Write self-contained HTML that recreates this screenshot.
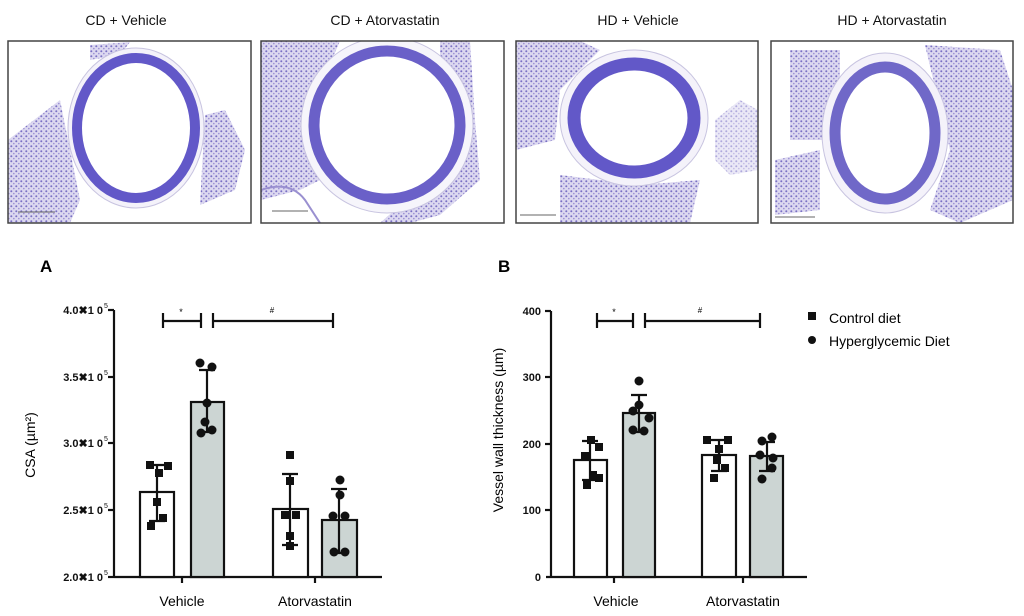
<!DOCTYPE html>
<html><head><meta charset="utf-8"><style>
html,body{margin:0;padding:0;background:#fff}
svg{display:block}
text{font-family:"Liberation Sans",sans-serif}
</style></head><body>
<svg width="1024" height="616" viewBox="0 0 1024 616" xmlns="http://www.w3.org/2000/svg">
<defs>
<pattern id="tis" width="5" height="5" patternUnits="userSpaceOnUse">
<rect width="5" height="5" fill="#dcd8f0"/>
<circle cx="1.3" cy="1.3" r="1" fill="#7a70c4"/>
<circle cx="3.8" cy="3.6" r="0.8" fill="#9a90d4"/>
</pattern>
<clipPath id="c1"><rect x="8" y="41" width="243" height="182"/></clipPath>
<clipPath id="c2"><rect x="261" y="41" width="243" height="182"/></clipPath>
<clipPath id="c3"><rect x="516" y="41" width="242" height="182"/></clipPath>
<clipPath id="c4"><rect x="771" y="41" width="242" height="182"/></clipPath>
</defs>
<g font-size="14" text-anchor="middle" fill="#111">
<text x="126" y="25">CD + Vehicle</text>
<text x="385" y="25">CD + Atorvastatin</text>
<text x="638" y="25">HD + Vehicle</text>
<text x="892" y="25">HD + Atorvastatin</text>
</g>
<!-- panel 1 -->
<g clip-path="url(#c1)">
<rect x="8" y="41" width="243" height="182" fill="#fff"/>
<path d="M8 140 L60 100 L80 200 L70 223 L8 223Z" fill="url(#tis)"/>
<path d="M205 115 L225 110 L245 150 L235 190 L200 205 Z" fill="url(#tis)"/>
<path d="M90 45 L130 42 L120 55 L90 60Z" fill="url(#tis)"/>
<ellipse cx="136" cy="128" rx="68" ry="80" fill="#f4f2fa" stroke="#c8c4e0" stroke-width="1"/>
<ellipse cx="136" cy="128" rx="59" ry="70" fill="#fff" stroke="#6258c8" stroke-width="10"/>
<line x1="18" y1="212" x2="55" y2="212" stroke="#666"/>
</g>
<rect x="8" y="41" width="243" height="182" fill="none" stroke="#444" stroke-width="1.5"/>
<!-- panel 2 -->
<g clip-path="url(#c2)">
<rect x="261" y="41" width="243" height="182" fill="#fff"/>
<path d="M261 41 L340 41 L310 110 L320 180 L300 190 L261 200Z" fill="url(#tis)"/>
<path d="M440 41 L470 41 L475 120 L480 180 L440 215 L410 223 L380 223 L440 170Z" fill="url(#tis)"/>
<path d="M261 190 Q290 180 305 200 L320 223" stroke="#9a90d0" stroke-width="2" fill="none"/>
<ellipse cx="387" cy="125" rx="86" ry="88" fill="#f6f5fb" stroke="#c8c4e0"/>
<ellipse cx="387" cy="125" rx="73" ry="74" fill="#fff" stroke="#6a60c8" stroke-width="11"/>
<line x1="272" y1="211" x2="308" y2="211" stroke="#666"/>
</g>
<rect x="261" y="41" width="243" height="182" fill="none" stroke="#444" stroke-width="1.5"/>
<!-- panel 3 -->
<g clip-path="url(#c3)">
<rect x="516" y="41" width="242" height="182" fill="#fff"/>
<path d="M516 41 L580 41 L600 50 L560 90 L555 140 L516 150Z" fill="url(#tis)"/>
<path d="M560 175 L640 185 L700 180 L690 223 L560 223Z" fill="url(#tis)"/>
<path d="M715 120 L740 100 L758 110 L758 170 L730 175 L715 160Z" fill="url(#tis)" opacity="0.6"/>
<ellipse cx="634" cy="118" rx="74" ry="68" fill="#f4f2fa" stroke="#c8c4e0"/>
<ellipse cx="634" cy="118" rx="60" ry="54" fill="#fff" stroke="#6258c8" stroke-width="13"/>
<line x1="520" y1="215" x2="556" y2="215" stroke="#666"/>
</g>
<rect x="516" y="41" width="242" height="182" fill="none" stroke="#444" stroke-width="1.5"/>
<!-- panel 4 -->
<g clip-path="url(#c4)">
<rect x="771" y="41" width="242" height="182" fill="#fff"/>
<path d="M790 50 L840 50 L840 90 L825 140 L790 140Z" fill="url(#tis)"/>
<path d="M775 160 L820 150 L820 210 L775 215Z" fill="url(#tis)"/>
<path d="M925 45 L1000 50 L1013 90 L1013 200 L960 223 L930 210 L950 150 Z" fill="url(#tis)"/>
<ellipse cx="885" cy="133" rx="63" ry="80" fill="#f4f2fa" stroke="#c8c4e0"/>
<ellipse cx="885" cy="133" rx="50" ry="66" fill="#fff" stroke="#7068c8" stroke-width="11"/>
<line x1="775" y1="217" x2="815" y2="217" stroke="#666"/>
</g>
<rect x="771" y="41" width="242" height="182" fill="none" stroke="#444" stroke-width="1.5"/>

<!-- Chart A -->
<text x="40" y="272" font-size="17" font-weight="bold">A</text>
<g stroke="#111" stroke-width="2.2" fill="none">
<line x1="114" y1="310" x2="114" y2="577"/>
<line x1="114" y1="577" x2="382" y2="577"/>
<line x1="108" y1="310" x2="114" y2="310"/><line x1="108" y1="377" x2="114" y2="377"/>
<line x1="108" y1="443" x2="114" y2="443"/><line x1="108" y1="510" x2="114" y2="510"/>
<line x1="108" y1="577" x2="114" y2="577"/>
<line x1="182" y1="577" x2="182" y2="583"/><line x1="315" y1="577" x2="315" y2="583"/>
<rect x="140" y="492" width="34" height="85" fill="#fff"/>
<rect x="191" y="402" width="33" height="175" fill="#ccd5d3"/>
<rect x="273" y="509" width="35" height="68" fill="#fff"/>
<rect x="322" y="520" width="35" height="57" fill="#ccd5d3"/>
<path d="M157 465V521M149 465h16M149 521h16"/>
<path d="M207 370V432M199 370h16M199 432h16"/>
<path d="M290 474V545M282 474h16M282 545h16"/>
<path d="M339 489V553M331 489h16M331 553h16"/>
<path d="M163 321H201M163 313v15M201 313v15"/>
<path d="M213 321H333M213 313v15M333 313v15"/>
</g>
<g fill="#111">
<rect x="146" y="461" width="8" height="8"/>
<rect x="164" y="462" width="8" height="8"/><rect x="155" y="469" width="8" height="8"/>
<rect x="153" y="498" width="8" height="8"/><rect x="159" y="514" width="8" height="8"/>
<rect x="147" y="522" width="8" height="8"/>
<circle cx="200" cy="363" r="4.5"/><circle cx="212" cy="367" r="4.5"/><circle cx="207" cy="403" r="4.5"/>
<circle cx="205" cy="422" r="4.5"/><circle cx="212" cy="430" r="4.5"/><circle cx="201" cy="433" r="4.5"/>
<rect x="286" y="451" width="8" height="8"/><rect x="286" y="477" width="8" height="8"/>
<rect x="281" y="511" width="8" height="8"/><rect x="292" y="511" width="8" height="8"/>
<rect x="286" y="532" width="8" height="8"/><rect x="286" y="542" width="8" height="8"/>
<circle cx="340" cy="480" r="4.5"/><circle cx="340" cy="495" r="4.5"/><circle cx="333" cy="516" r="4.5"/>
<circle cx="345" cy="516" r="4.5"/><circle cx="334" cy="552" r="4.5"/><circle cx="345" cy="552" r="4.5"/>
</g>
<g font-size="11" font-weight="bold" fill="#111" text-anchor="end">
<text x="103" y="314">4.0✖1 0</text><text x="103" y="381">3.5✖1 0</text>
<text x="103" y="447">3.0✖1 0</text><text x="103" y="514">2.5✖1 0</text>
<text x="103" y="581">2.0✖1 0</text>
</g>
<g font-size="7" fill="#111">
<text x="104" y="308">5</text><text x="104" y="375">5</text><text x="104" y="441">5</text><text x="104" y="508">5</text><text x="104" y="575">5</text>
</g>
<text x="181" y="315" font-size="9" text-anchor="middle">*</text>
<text x="272" y="313" font-size="8" text-anchor="middle">#</text>
<text transform="translate(35 445) rotate(-90)" font-size="14" text-anchor="middle">CSA (µm²)</text>
<text x="182" y="606" font-size="14" text-anchor="middle">Vehicle</text>
<text x="315" y="606" font-size="14" text-anchor="middle">Atorvastatin</text>

<!-- Chart B -->
<text x="498" y="272" font-size="17" font-weight="bold">B</text>
<g stroke="#111" stroke-width="2.2" fill="none">
<line x1="551" y1="311" x2="551" y2="577"/>
<line x1="546" y1="577" x2="807" y2="577"/>
<line x1="545" y1="311" x2="551" y2="311"/><line x1="545" y1="377" x2="551" y2="377"/>
<line x1="545" y1="444" x2="551" y2="444"/><line x1="545" y1="510" x2="551" y2="510"/>
<line x1="614" y1="577" x2="614" y2="583"/><line x1="743" y1="577" x2="743" y2="583"/>
<rect x="574" y="460" width="33" height="117" fill="#fff"/>
<rect x="623" y="413" width="32" height="164" fill="#ccd5d3"/>
<rect x="702" y="455" width="34" height="122" fill="#fff"/>
<rect x="750" y="456" width="33" height="121" fill="#ccd5d3"/>
<path d="M590 441V480M582 441h16M582 480h16"/>
<path d="M639 395V432M631 395h16M631 432h16"/>
<path d="M719 440V471M711 440h16M711 471h16"/>
<path d="M767 442V471M759 442h16M759 471h16"/>
<path d="M597 321H633M597 313v15M633 313v15"/>
<path d="M645 321H760M645 313v15M760 313v15"/>
</g>
<g fill="#111">
<rect x="587" y="436" width="8" height="8"/><rect x="595" y="443" width="8" height="8"/>
<rect x="581" y="452" width="8" height="8"/><rect x="589" y="471" width="8" height="8"/>
<rect x="595" y="474" width="8" height="8"/><rect x="583" y="481" width="8" height="8"/>
<circle cx="639" cy="381" r="4.5"/><circle cx="639" cy="405" r="4.5"/><circle cx="633" cy="411" r="4.5"/>
<circle cx="649" cy="418" r="4.5"/><circle cx="633" cy="430" r="4.5"/><circle cx="644" cy="431" r="4.5"/>
<rect x="703" y="436" width="8" height="8"/><rect x="724" y="436" width="8" height="8"/>
<rect x="715" y="445" width="8" height="8"/><rect x="713" y="456" width="8" height="8"/>
<rect x="721" y="464" width="8" height="8"/><rect x="710" y="474" width="8" height="8"/>
<circle cx="762" cy="441" r="4.5"/><circle cx="772" cy="437" r="4.5"/><circle cx="760" cy="455" r="4.5"/>
<circle cx="773" cy="458" r="4.5"/><circle cx="772" cy="468" r="4.5"/><circle cx="762" cy="479" r="4.5"/>
<rect x="808" y="312" width="8" height="8"/>
<circle cx="812" cy="340" r="4"/>
</g>
<g font-size="11" font-weight="bold" fill="#111" text-anchor="end">
<text x="541" y="315">400</text><text x="541" y="381">300</text>
<text x="541" y="448">200</text><text x="541" y="514">100</text><text x="541" y="581">0</text>
</g>
<text x="614" y="315" font-size="9" text-anchor="middle">*</text>
<text x="700" y="313" font-size="8" text-anchor="middle">#</text>
<text transform="translate(503 430) rotate(-90)" font-size="14" text-anchor="middle">Vessel wall thickness (µm)</text>
<text x="616" y="606" font-size="14" text-anchor="middle">Vehicle</text>
<text x="743" y="606" font-size="14" text-anchor="middle">Atorvastatin</text>
<text x="829" y="323" font-size="14">Control diet</text>
<text x="829" y="346" font-size="14">Hyperglycemic Diet</text>
</svg>
</body></html>
